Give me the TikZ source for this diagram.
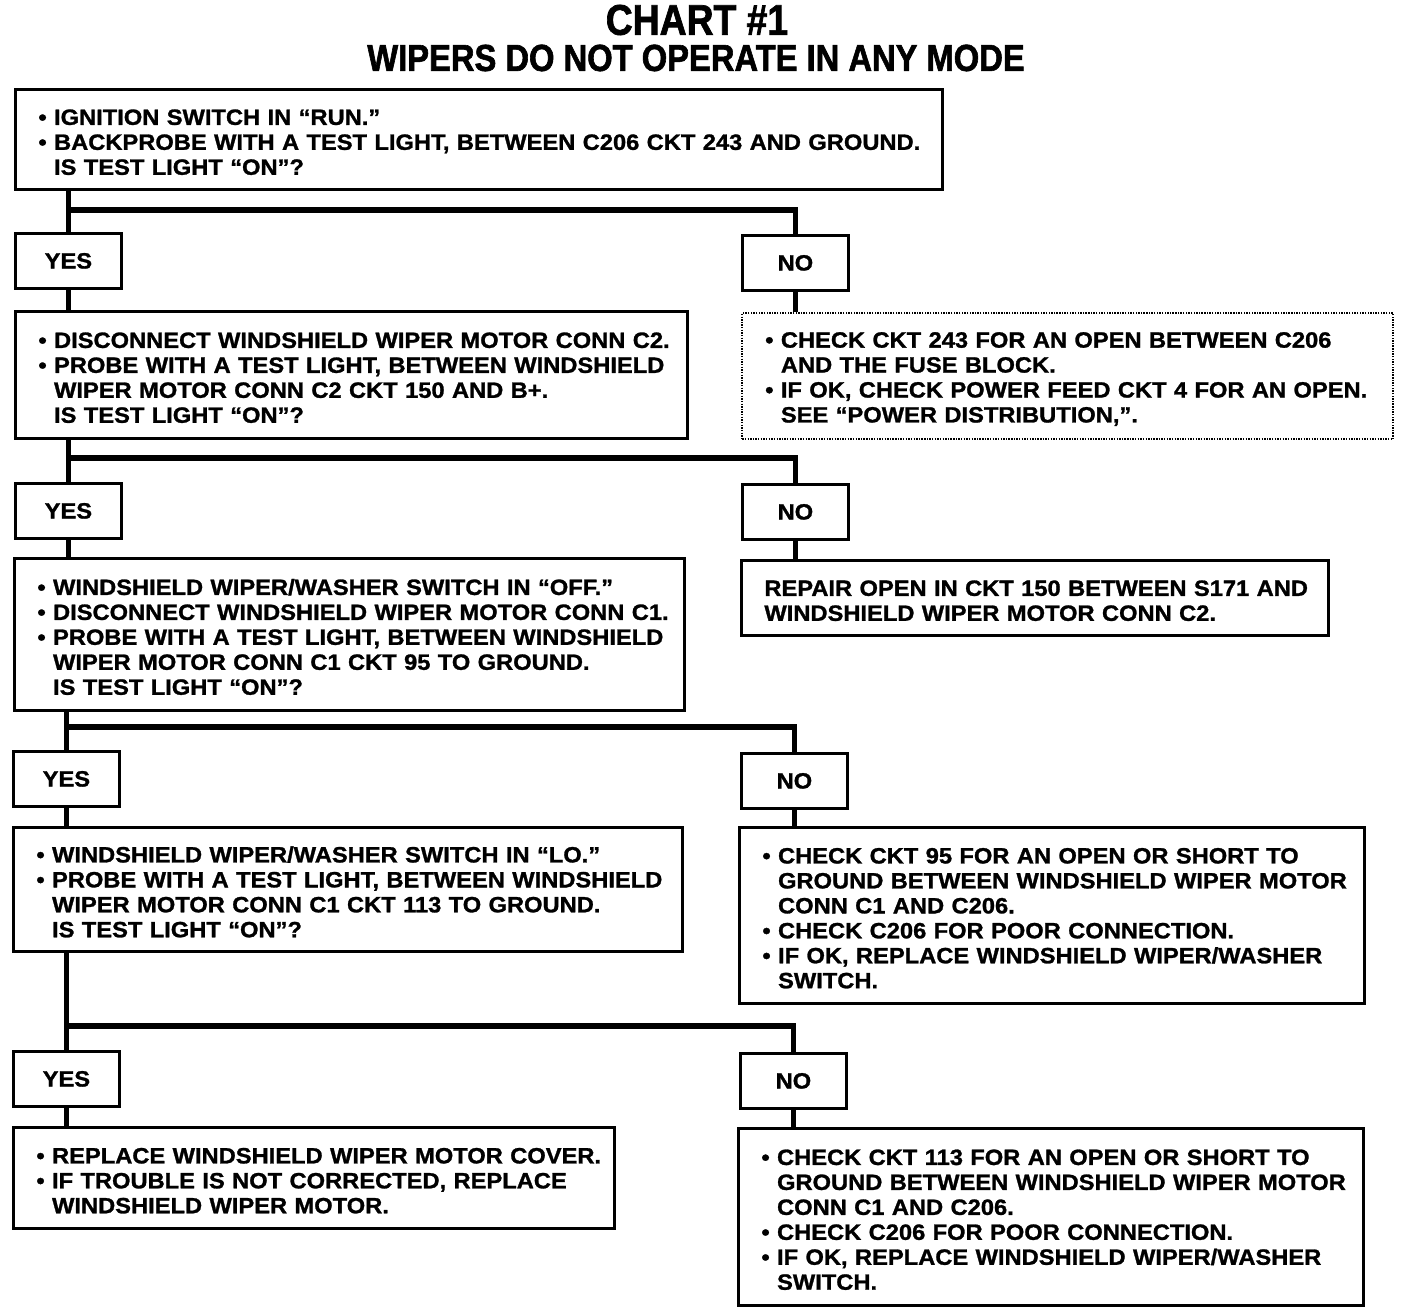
\documentclass[tikz,border=0pt]{standalone}
\usepackage{fontspec}
\setmainfont{Liberation Sans}[FakeStretch=1.07, BoldFeatures={FakeBold=1.2}]
\newfontfamily\titlefont{Liberation Sans}[FakeStretch=0.87, BoldFeatures={FakeBold=1.6}]
\usetikzlibrary{calc}
\newcommand{\bl}[1]{\mbox{\textbullet\ #1}}
\newcommand{\ct}[1]{\mbox{\hphantom{\textbullet\ }#1}}
\newcommand{\tx}[1]{\mbox{#1}}
\tikzset{
  stepbox/.style={draw=black, line width=1.6pt, anchor=north west, align=left,
    inner xsep=0.46cm, inner ysep=0pt, font=\bfseries\fontsize{12.6}{14.2}\selectfont,
    execute at begin node={\rule{0pt}{12pt}}},
  fixbox/.style={stepbox, line width=1.4pt, dash pattern=on 0.8pt off 0.7pt},
  answer/.style={draw=black, line width=1.6pt, anchor=north west, inner sep=0pt,
    minimum width=2.12cm, minimum height=1.1cm, font=\bfseries\fontsize{12.6}{14}\selectfont},
  link/.style={line width=3.2pt, line join=miter},
  heading/.style={font=\titlefont\bfseries\fontsize{#1}{#1}\selectfont}
}

\begin{document}
\begin{tikzpicture}[x=0.2mm, y=-0.2mm]
  \useasboundingbox (0,0) rectangle (1408,1314);
  \node[heading=24.4] (title) at (697,20) {CHART \#1};
  \node[heading=21.4] (subtitle) at (696,58) {WIPERS DO NOT OPERATE IN ANY MODE};

  % step 1
  \node[stepbox, text width=17.62cm, minimum height=2cm] (q1) at (14,88)
    {\bl{IGNITION SWITCH IN “RUN.”}\\
     \bl{BACKPROBE WITH A TEST LIGHT, BETWEEN C206 CKT 243 AND GROUND.}\\
     \ct{IS TEST LIGHT “ON”?}};
  \node[answer] (y1) at (14,232) {YES};
  \node[answer] (n1) at (741,234) {NO};
  \path (y1.north) ++(0,-22) coordinate (j1);
  \draw[link] (q1.south -| y1.north) -- (y1.north);
  \draw[link] (j1) -| (n1.north);

  % step 2
  \node[stepbox, text width=12.52cm, minimum height=2.54cm] (q2) at (14,310)
    {\bl{DISCONNECT WINDSHIELD WIPER MOTOR CONN C2.}\\
     \bl{PROBE WITH A TEST LIGHT, BETWEEN WINDSHIELD}\\
     \ct{WIPER MOTOR CONN C2 CKT 150 AND B+.}\\
     \ct{IS TEST LIGHT “ON”?}};
  \node[fixbox, text width=12.10cm, minimum height=2.52cm] (a1) at (741,312)
    {\bl{CHECK CKT 243 FOR AN OPEN BETWEEN C206}\\
     \ct{AND THE FUSE BLOCK.}\\
     \bl{IF OK, CHECK POWER FEED CKT 4 FOR AN OPEN.}\\
     \ct{SEE “POWER DISTRIBUTION,”.}};
  \draw[link] (y1.south) -- (y1.south |- q2.north);
  \draw[link] (n1.south) -- (n1.south |- a1.north);
  \node[answer] (y2) at (14,482) {YES};
  \node[answer] (n2) at (741,483) {NO};
  \path (y2.north) ++(0,-24) coordinate (j2);
  \draw[link] (q2.south -| y2.north) -- (y2.north);
  \draw[link] (j2) -| (n2.north);

  % step 3
  \node[stepbox, text width=12.48cm, minimum height=3.04cm] (q3) at (13,557)
    {\bl{WINDSHIELD WIPER/WASHER SWITCH IN “OFF.”}\\
     \bl{DISCONNECT WINDSHIELD WIPER MOTOR CONN C1.}\\
     \bl{PROBE WITH A TEST LIGHT, BETWEEN WINDSHIELD}\\
     \ct{WIPER MOTOR CONN C1 CKT 95 TO GROUND.}\\
     \ct{IS TEST LIGHT “ON”?}};
  \node[stepbox, text width=10.82cm, minimum height=1.5cm] (a2) at (740,559)
    {\tx{REPAIR OPEN IN CKT 150 BETWEEN S171 AND}\\
     \tx{WINDSHIELD WIPER MOTOR CONN C2.}};
  \draw[link] (y2.south) -- (y2.south |- q3.north);
  \draw[link] (n2.south) -- (n2.south |- a2.north);
  \node[answer] (y3) at (12,750) {YES};
  \node[answer] (n3) at (740,752) {NO};
  \path (y3.north) ++(0,-23) coordinate (j3);
  \draw[link] (q3.south -| y3.north) -- (y3.north);
  \draw[link] (j3) -| (n3.north);

  % step 4
  \node[stepbox, text width=12.46cm, minimum height=2.48cm] (q4) at (12,826)
    {\bl{WINDSHIELD WIPER/WASHER SWITCH IN “LO.”}\\
     \bl{PROBE WITH A TEST LIGHT, BETWEEN WINDSHIELD}\\
     \ct{WIPER MOTOR CONN C1 CKT 113 TO GROUND.}\\
     \ct{IS TEST LIGHT “ON”?}};
  \node[stepbox, text width=11.58cm, minimum height=3.52cm] (a3) at (738,826)
    {\bl{CHECK CKT 95 FOR AN OPEN OR SHORT TO}\\
     \ct{GROUND BETWEEN WINDSHIELD WIPER MOTOR}\\
     \ct{CONN C1 AND C206.}\\
     \bl{CHECK C206 FOR POOR CONNECTION.}\\
     \bl{IF OK, REPLACE WINDSHIELD WIPER/WASHER}\\
     \ct{SWITCH.}};
  \draw[link] (y3.south) -- (y3.south |- q4.north);
  \draw[link] (n3.south) -- (n3.south |- a3.north);
  \node[answer] (y4) at (12,1050) {YES};
  \node[answer] (n4) at (739,1052) {NO};
  \path (y4.north) ++(0,-24) coordinate (j4);
  \draw[link] (q4.south -| y4.north) -- (y4.north);
  \draw[link] (j4) -| (n4.north);

  % results
  \node[stepbox, text width=11.10cm, minimum height=2.02cm] (q5) at (12,1126)
    {\bl{REPLACE WINDSHIELD WIPER MOTOR COVER.}\\
     \bl{IF TROUBLE IS NOT CORRECTED, REPLACE}\\
     \ct{WINDSHIELD WIPER MOTOR.}};
  \node[stepbox, text width=11.58cm, minimum height=3.54cm] (a4) at (737,1127)
    {\bl{CHECK CKT 113 FOR AN OPEN OR SHORT TO}\\
     \ct{GROUND BETWEEN WINDSHIELD WIPER MOTOR}\\
     \ct{CONN C1 AND C206.}\\
     \bl{CHECK C206 FOR POOR CONNECTION.}\\
     \bl{IF OK, REPLACE WINDSHIELD WIPER/WASHER}\\
     \ct{SWITCH.}};
  \draw[link] (y4.south) -- (y4.south |- q5.north);
  \draw[link] (n4.south) -- (n4.south |- a4.north);
\end{tikzpicture}
\end{document}
